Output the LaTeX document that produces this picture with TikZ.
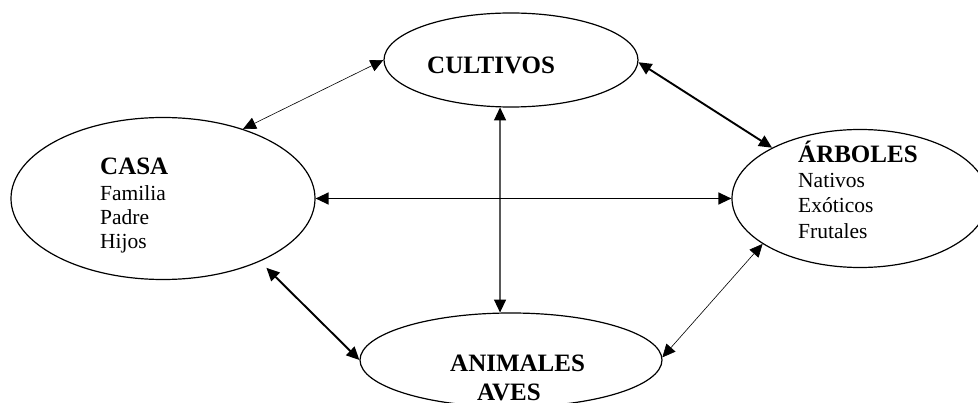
\documentclass[tikz,border=0pt]{standalone}
\usepackage{fontspec}
\setmainfont{Liberation Serif}
\usetikzlibrary{arrows.meta,shapes.geometric}
\tikzset{
  oval/.style={ellipse, draw=black, line width=1.2pt, inner sep=0pt},
  head/.style={anchor=base west, inner sep=0pt, font=\fontsize{25}{28}\selectfont\bfseries},
  body/.style={anchor=base west, inner sep=0pt, font=\fontsize{21.5}{24}\selectfont},
  link/.style={{Triangle[length=13pt,width=12pt]}-{Triangle[length=13pt,width=12pt]}, draw=black},
  thinlink/.style={link, line width=0.6pt},
  midlink/.style={link, line width=1.3pt},
  thicklink/.style={link, line width=1.9pt}
}
\begin{document}
\begin{tikzpicture}[x=1pt,y=-1pt]
\useasboundingbox (0,0) rectangle (978,403);
\fill[white] (0,0) rectangle (978,403);
\clip (0,0) rectangle (978,403);
% ellipses
\node[oval, minimum width=254pt, minimum height=94pt] (cultivos) at (511,60) {};
\node[oval, minimum width=304pt, minimum height=162pt] (casa) at (163,198.5) {};
\node[oval, minimum width=256pt, minimum height=138pt] (arboles) at (860,198.5) {};
\node[oval, minimum width=302pt, minimum height=94pt] (animales) at (511,360) {};
% texts
\node[head] (tcult) at (427,74) {CULTIVOS};
\node[head] (tcasa) at (100,175) {CASA};
\node[body] (tfam) at (100,201) {Familia};
\node[body] (tpad) at (100,225) {Padre};
\node[body] (thij) at (100,249) {Hijos};
\node[head] (tarb) at (798,163) {ÁRBOLES};
\node[body] (tnat) at (798,188) {Nativos};
\node[body] (texo) at (798,213) {Exóticos};
\node[body] (tfru) at (798,239) {Frutales};
\node[head] (tani) at (450,372) {ANIMALES};
\node[head] (tave) at (477,401) {AVES};
% connectors
\draw[thinlink] (casa.41) -- (cultivos.180);
\draw[thicklink] (cultivos.-1) -- (arboles.150);
\draw[midlink] (casa.0) -- (arboles.180);
\draw[midlink] (cultivos.-103) -- (animales.103);
\draw[thicklink, shorten <=9pt] (casa.-33) -- (animales.180);
\draw[thinlink] (animales.1) -- (arboles.205);
\end{tikzpicture}
\end{document}
